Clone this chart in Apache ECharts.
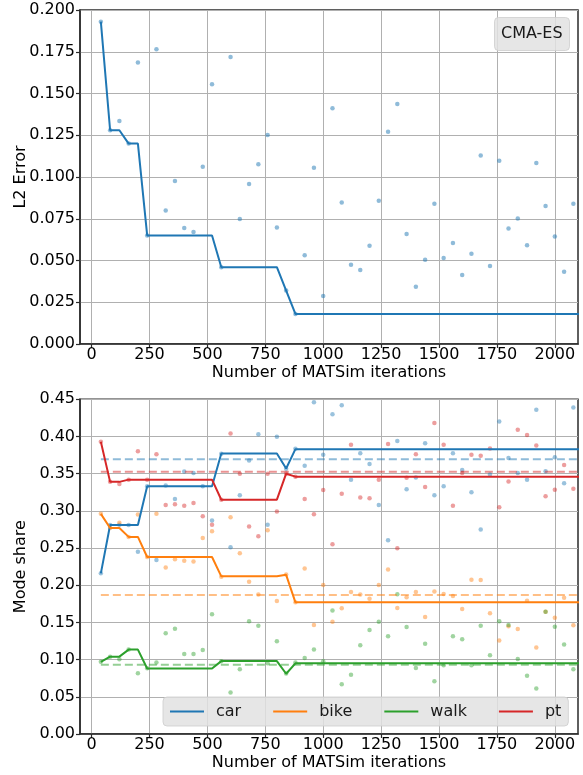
<!DOCTYPE html>
<html><head><meta charset="utf-8">
<script src="https://cdn.jsdelivr.net/npm/echarts@6/dist/echarts.min.js"></script>
<style>html,body{margin:0;padding:0;background:#fff}#c{width:583px;height:775px}</style>
</head><body><div id="c"></div>
<script>
// ---------------- data ----------------
const iterations = [40,80,120,160,200,240,280,320,360,400,440,480,520,560,600,640,680,720,760,800,840,880,
  920,960,1000,1040,1080,1120,1160,1200,1240,1280,1320,1360,1400,1440,1480,1520,1560,1600,1640,1680,1720,
  1760,1800,1840,1880,1920,1960,2000,2040,2080];
const lineEndIteration = 2120;

const l2Error = [0.193,0.128,0.1335,0.120,0.1685,0.065,0.1765,0.080,0.0976,0.0695,0.0671,0.1062,0.1555,0.046,
  0.1719,0.0749,0.0958,0.1076,0.1251,0.0697,0.032,0.018,0.0531,0.1056,0.0287,0.1411,0.0848,0.0475,0.0443,
  0.0589,0.0858,0.1271,0.1437,0.0659,0.0343,0.0505,0.0840,0.0515,0.0605,0.0413,0.0541,0.1128,0.0467,0.1098,
  0.0691,0.0751,0.0591,0.1084,0.0826,0.0643,0.0433,0.0840];
const l2Best = [0.193,0.128,0.128,0.120,0.120,0.065,0.065,0.065,0.065,0.065,0.065,0.065,0.065,0.046,
  0.046,0.046,0.046,0.046,0.046,0.046,0.032,0.018,0.018,0.018,0.018,0.018,0.018,0.018,0.018,
  0.018,0.018,0.018,0.018,0.018,0.018,0.018,0.018,0.018,0.018,0.018,0.018,0.018,0.018,0.018,
  0.018,0.018,0.018,0.018,0.018,0.018,0.018,0.018];

const carShare = [0.216,0.281,0.2815,0.281,0.245,0.333,0.234,0.334,0.316,0.353,0.351,0.333,0.287,0.3767,
  0.251,0.321,0.3677,0.403,0.2815,0.3995,0.3566,0.3834,0.3606,0.446,0.3753,0.430,0.442,0.342,0.3775,
  0.363,0.308,0.2605,0.394,0.329,0.345,0.391,0.321,0.333,0.3776,0.355,0.325,0.275,0.349,0.420,
  0.371,0.351,0.342,0.436,0.3534,0.372,0.337,0.439];
const bikeShare = [0.296,0.277,0.284,0.265,0.295,0.238,0.296,0.224,0.235,0.233,0.232,0.2636,0.2726,0.2113,
  0.2913,0.2431,0.2046,0.1877,0.2739,0.1787,0.2145,0.177,0.2225,0.1466,0.2002,0.151,0.169,0.191,0.1877,
  0.1819,0.2002,0.2212,0.1693,0.184,0.191,0.1573,0.1917,0.1881,0.1854,0.168,0.2073,0.2069,0.1622,0.1256,
  0.1448,0.1412,0.1792,0.1162,0.1644,0.1564,0.1832,0.1461];
const walkShare = [0.097,0.104,0.1005,0.1135,0.0818,0.0885,0.096,0.1354,0.1416,0.1077,0.1077,0.113,0.161,0.0979,
  0.0559,0.0871,0.1515,0.1457,0.095,0.1247,0.0813,0.096,0.1023,0.1135,0.0979,0.1662,0.067,0.0795,0.1193,
  0.1399,0.151,0.1314,0.188,0.1439,0.0889,0.1215,0.071,0.0925,0.1314,0.1273,0.0925,0.1457,0.1059,0.1515,
  0.1466,0.101,0.0782,0.0612,0.1644,0.1443,0.1202,0.0871];
const ptShare = [0.393,0.339,0.336,0.342,0.380,0.342,0.376,0.308,0.309,0.307,0.3105,0.2927,0.2815,0.315,
  0.404,0.350,0.279,0.266,0.350,0.2993,0.3503,0.3458,0.316,0.2953,0.328,0.255,0.323,0.389,0.318,
  0.317,0.342,0.390,0.2498,0.3445,0.376,0.332,0.418,0.389,0.307,0.351,0.3753,0.374,0.384,0.305,
  0.3396,0.409,0.402,0.388,0.3195,0.3284,0.3615,0.3298];

const carBest = [0.216,0.281,0.281,0.281,0.281,0.333,0.333,0.333,0.333,0.333,0.333,0.333,0.333,0.377,
  0.377,0.377,0.377,0.377,0.377,0.377,0.357,0.383,0.383,0.383,0.383,0.383,0.383,0.383,0.383,
  0.383,0.383,0.383,0.383,0.383,0.383,0.383,0.383,0.383,0.383,0.383,0.383,0.383,0.383,0.383,
  0.383,0.383,0.383,0.383,0.383,0.383,0.383,0.383];
const bikeBest = [0.296,0.277,0.277,0.265,0.265,0.238,0.238,0.238,0.238,0.238,0.238,0.238,0.238,0.212,
  0.212,0.212,0.212,0.212,0.212,0.212,0.214,0.177,0.177,0.177,0.177,0.177,0.177,0.177,0.177,
  0.177,0.177,0.177,0.177,0.177,0.177,0.177,0.177,0.177,0.177,0.177,0.177,0.177,0.177,0.177,
  0.177,0.177,0.177,0.177,0.177,0.177,0.177,0.177];
const walkBest = [0.097,0.104,0.104,0.1135,0.1135,0.088,0.088,0.088,0.088,0.088,0.088,0.088,0.088,0.098,
  0.098,0.098,0.098,0.098,0.098,0.098,0.081,0.095,0.095,0.095,0.095,0.095,0.095,0.095,0.095,
  0.095,0.095,0.095,0.095,0.095,0.095,0.095,0.095,0.095,0.095,0.095,0.095,0.095,0.095,0.095,
  0.095,0.095,0.095,0.095,0.095,0.095,0.095,0.095];
const ptBest = [0.393,0.339,0.339,0.342,0.342,0.342,0.342,0.342,0.342,0.342,0.342,0.342,0.342,0.315,
  0.315,0.315,0.315,0.315,0.315,0.315,0.350,0.346,0.346,0.346,0.346,0.346,0.346,0.346,0.346,
  0.346,0.346,0.346,0.346,0.346,0.346,0.346,0.346,0.346,0.346,0.346,0.346,0.346,0.346,0.346,
  0.346,0.346,0.346,0.346,0.346,0.346,0.346,0.346];

const modeNames = ['car','bike','walk','pt'];
const modeTargets = [0.3695,0.1868,0.093,0.3525];
const xTickValues = [0,250,500,750,1000,1250,1500,1750,2000];
const legendTitle = 'CMA-ES';

// ---------------- chart ----------------
const FONT = 'DejaVu Sans';
const COLORS = ['#1f77b4','#ff7f0e','#2ca02c','#d62728'];
const modeShares = [carShare,bikeShare,walkShare,ptShare];
const modeBest = [carBest,bikeBest,walkBest,ptBest];

function pts(ys){ return iterations.map((x,i)=>[x,ys[i]]); }
function linePts(ys){ const p = pts(ys); p.push([lineEndIteration, ys[ys.length-1]]); return p; }

const SPINE = '#2b2b2b';
const GRIDC = '#b0b0b0';
function xAxisCfg(g){
  return {
    type:'value', gridIndex:g, min:-50, max:2100,
    name:'Number of MATSim iterations', nameLocation:'middle', nameGap:21, nameMoveOverlap:false,
    nameTextStyle:{fontFamily:FONT,fontSize:16,color:'#000'},
    axisLine:{show:true,onZero:false,lineStyle:{color:SPINE,width:1.5}},
    axisTick:{show:true,length:4,inside:false,customValues:xTickValues,lineStyle:{color:SPINE,width:1.2}},
    axisLabel:{show:true,customValues:xTickValues,margin:3,fontFamily:FONT,fontSize:16,color:'#000',
      formatter:v=>String(Math.round(v))},
    splitLine:{show:true,lineStyle:{color:GRIDC,width:1}}
  };
}
function yAxisCfg(g,max,interval,name,dec){
  return {
    type:'value', gridIndex:g, min:0, max:max, interval:interval,
    name:name, nameLocation:'middle', nameRotate:90, nameGap:51, nameMoveOverlap:false,
    nameTextStyle:{fontFamily:FONT,fontSize:16,color:'#000'},
    axisLine:{show:true,onZero:false,lineStyle:{color:SPINE,width:1.5}},
    axisTick:{show:true,length:4,inside:false,lineStyle:{color:SPINE,width:1.2}},
    axisLabel:{margin:5,fontFamily:FONT,fontSize:16,color:'#000',formatter:v=>v.toFixed(dec)},
    splitLine:{show:true,lineStyle:{color:GRIDC,width:1}}
  };
}

const series = [];
series.push({type:'scatter',name:'l2pts',xAxisIndex:0,yAxisIndex:0,data:pts(l2Error),
  symbolSize:4.5,itemStyle:{color:COLORS[0],opacity:0.5},silent:true,z:2});
series.push({type:'line',name:legendTitle,xAxisIndex:0,yAxisIndex:0,data:linePts(l2Best),
  showSymbol:false,symbol:'none',lineStyle:{color:COLORS[0],width:2},clip:true,silent:true,z:3});

modeNames.forEach((m,k)=>{
  series.push({type:'scatter',name:m+'_pts',xAxisIndex:1,yAxisIndex:1,data:pts(modeShares[k]),
    symbolSize:4.5,itemStyle:{color:COLORS[k],opacity:0.45},silent:true,z:2});
});
modeNames.forEach((m,k)=>{
  series.push({type:'line',name:m+'_target',xAxisIndex:1,yAxisIndex:1,
    data:[[iterations[0],modeTargets[k]],[lineEndIteration,modeTargets[k]]],
    symbol:'none',lineStyle:{color:COLORS[k],width:2,type:[8,4],opacity:0.5},clip:true,silent:true,z:3});
});
modeNames.forEach((m,k)=>{
  series.push({type:'line',name:m,xAxisIndex:1,yAxisIndex:1,data:linePts(modeBest[k]),
    symbol:'none',showSymbol:false,itemStyle:{color:COLORS[k]},lineStyle:{color:COLORS[k],width:2},clip:true,silent:true,z:4});
});

const gridBase = {left:80,width:498,show:true,borderColor:SPINE,borderWidth:1.5,backgroundColor:'transparent',
  containLabel:false,outerBoundsMode:'none'};
const option = {
  animation:false,
  backgroundColor:'#fff',
  textStyle:{fontFamily:FONT},
  grid:[
    Object.assign({},gridBase,{top:10,height:334}),
    Object.assign({},gridBase,{top:399.3,height:334.7})
  ],
  xAxis:[xAxisCfg(0),xAxisCfg(1)],
  yAxis:[yAxisCfg(0,0.2,0.025,'L2 Error',3),yAxisCfg(1,0.45,0.05,'Mode share',2)],
  title:{text:legendTitle,left:494,top:17,padding:[9,7,9,7],
    backgroundColor:'rgba(226,226,226,0.85)',borderRadius:4,borderColor:'rgba(205,205,205,0.8)',borderWidth:1,
    textStyle:{fontFamily:FONT,fontSize:16,fontWeight:'normal',color:'#1a1a1a'}},
  legend:{data:modeNames,left:163,top:697,orient:'horizontal',icon:'rect',itemWidth:34,itemHeight:2,itemGap:32,
    padding:[5,7,5,7],backgroundColor:'rgba(226,226,226,0.85)',borderRadius:4,borderColor:'rgba(205,205,205,0.8)',borderWidth:1,
    selectedMode:false,
    textStyle:{fontFamily:FONT,fontSize:16,lineHeight:19,color:'#1a1a1a',padding:[0,0,0,7]}},
  series:series
};
const chart = echarts.init(document.getElementById('c'),null,{renderer:'canvas'});
chart.setOption(option);
</script></body></html>
